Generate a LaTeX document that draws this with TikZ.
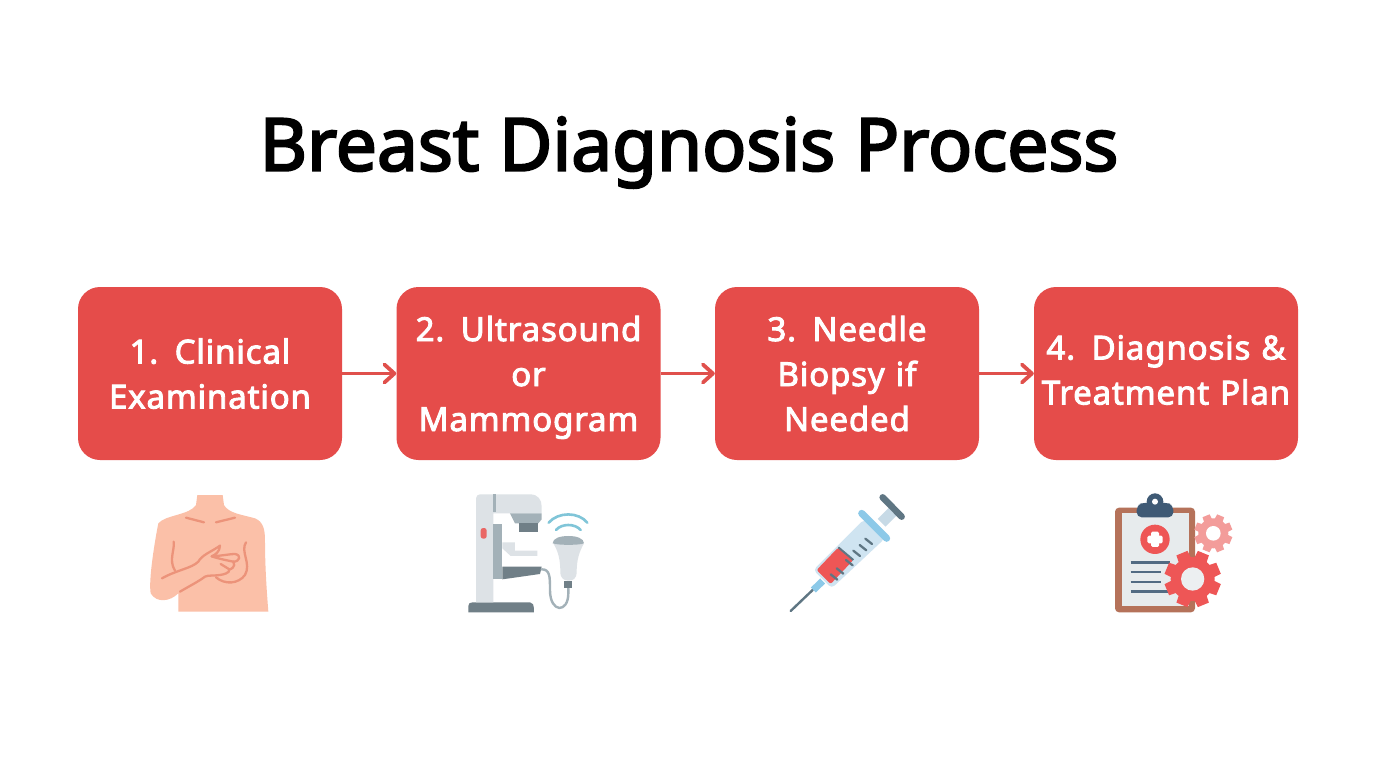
\documentclass[tikz,border=0pt]{standalone}
\usepackage{fontspec}
\setmainfont{Noto Sans}
\newfontfamily\boxfont{Noto Sans}[FakeBold=2.8,LetterSpace=2.6]
\newfontfamily\headfont{Noto Sans}[FakeBold=3]
\usetikzlibrary{arrows.meta}
\definecolor{boxred}{HTML}{E54C4A}
\definecolor{arrred}{HTML}{E0504C}
\definecolor{skin}{HTML}{FBC0A8}
\definecolor{skinline}{HTML}{EC937A}
\definecolor{mlight}{HTML}{DDE2E6}
\definecolor{mmid}{HTML}{A3B1B8}
\definecolor{mdark}{HTML}{707F87}
\definecolor{wave}{HTML}{80C5D8}
\definecolor{sblue}{HTML}{8CC9E8}
\definecolor{sbarrel}{HTML}{CFE4F1}
\definecolor{sdark}{HTML}{5F7683}
\definecolor{navy}{HTML}{3F5A75}
\definecolor{wood}{HTML}{B5725A}
\definecolor{gearred}{HTML}{EE5656}
\definecolor{gearpink}{HTML}{F39C9A}
\newcommand{\tl}{\rule[-10pt]{0pt}{45pt}}
\newcommand{\tm}{\rule[-14pt]{0pt}{45pt}}
\newcommand{\boxsetup}{\boxfont\fontsize{33}{45}\selectfont\spaceskip=6.5pt\relax\xspaceskip=6.5pt\relax}
\newcommand{\headsetup}{\headfont\fontsize{73}{80}\selectfont\spaceskip=20pt\relax\xspaceskip=20pt\relax}
\tikzset{
  stepbox/.style={draw=none,fill=boxred,rounded corners=22pt,minimum width=264pt,minimum height=173pt,
    inner sep=0pt,text=white,align=center,text width=264pt,font=\boxsetup},
  flow/.style={draw=arrred,line width=3.6pt,-{Straight Barb[round,length=10pt,width=18pt,line width=3.8pt]}},
  title/.style={inner sep=0pt,font=\headsetup},
  icon/.style={shift={(#1)},x=0.3333pt,y=-0.3333pt},
  skinstroke/.style={draw=skinline,line width=2.3pt,line cap=round,line join=round},
}
\begin{document}
\begin{tikzpicture}[x=1pt,y=-1pt]
\useasboundingbox (0,0) rectangle (1376,768);
\fill[white] (0,0) rectangle (1376,768);
\node[title] (head) at (689,152.5) {Breast Diagnosis Process};
\node[stepbox] (s1) at (210,373.5) {\tl 1. Clinical\\\tl Examination};
\node[stepbox] (s2) at (528.5,373.5) {\tl 2. Ultrasound\\\tl or\\\tl Mammogram};
\node[stepbox] (s3) at (847,373.5) {\tl 3. Needle\\\tl Biopsy if\\\tl Needed};
\node[stepbox] (s4) at (1166,373.5) {\tm 4. Diagnosis \&\\\tm Treatment Plan};
\draw[flow] (s1.east) -- (s2.west);
\draw[flow] (s2.east) -- (s3.west);
\draw[flow] (s3.east) -- (s4.west);

% --- icon 1: body
\begin{scope}[icon={130,480}]
\fill[skin] (202,45) -- (278,45) -- (282,75) .. controls (295,100) and (340,105) .. (375,115)
  .. controls (400,125) and (405,150) .. (405,180) .. controls (405,260) and (410,330) .. (415,395) -- (145,395)
  -- (145,340) .. controls (120,365) and (80,370) .. (62,340)
  .. controls (55,300) and (75,180) .. (85,130) .. controls (105,105) and (180,105) .. (198,75) -- cycle;
\draw[skinstroke] (168,113) -- (222,127);
\draw[skinstroke] (258,127) -- (315,113);
\draw[skinstroke] (131,185) .. controls (135,210) and (115,240) .. (135,272);
\draw[skinstroke] (348,187) .. controls (330,215) and (365,250) .. (345,285) .. controls (325,312) and (285,315) .. (258,292);
\draw[skinstroke] (96,295) .. controls (140,270) and (185,265) .. (205,245) .. controls (215,225) and (245,215) .. (270,197)
  .. controls (270,215) and (255,225) .. (245,229) .. controls (270,228) and (300,222) .. (315,222)
  .. controls (335,225) and (330,245) .. (310,245) .. controls (320,260) and (300,270) .. (298,268)
  .. controls (300,280) and (280,283) .. (270,285) .. controls (250,288) and (235,285) .. (225,290)
  .. controls (205,305) and (175,320) .. (150,335);
\draw[skinstroke] (245,229) .. controls (262,235) and (285,240) .. (310,245);
\draw[skinstroke] (272,252) -- (298,268);
\end{scope}

% --- icon 2: mammography and probe
\begin{scope}[icon={450,480}]
\fill[mdark] (55,397) -- (55,378) .. controls (55,370) and (60,367) .. (68,367) -- (240,367) .. controls (248,367) and (252,372) .. (252,397) -- cycle;
\fill[mlight] (78,367) -- (78,55) .. controls (78,48) and (84,43) .. (90,43) -- (240,43) .. controls (265,43) and (275,60) .. (275,80) -- (275,100) -- (130,100) -- (130,367) -- cycle;
\fill[mmid] (128,43) rectangle (138,97);
\fill[mmid] (180,100) -- (275,100) -- (275,118) -- (265,130) -- (195,130) -- cycle;
\fill[mdark] (207,130) rectangle (265,157);
\fill[mmid] (130,132) -- (157,132) -- (157,298) -- (130,298) -- cycle;
\fill[mlight] (157,187) -- (195,187) -- (195,212) -- (262,212) -- (262,228) -- (182,228) -- (157,205) -- cycle;
\fill[mdark] (157,260) -- (275,260) -- (270,282) -- (200,292) -- (157,298) -- cycle;
\fill[boxred!85!white,rounded corners=2.5pt] (92,144) rectangle (110,176);
\draw[mmid,line width=2.4pt,line cap=round] (275,268) .. controls (300,268) and (300,290) .. (300,330) .. controls (300,400) and (355,400) .. (355,340) -- (355,325);
\fill[mdark] (343,302) rectangle (367,325);
\fill[mlight] (311,192) .. controls (325,215) and (331,240) .. (331,275) .. controls (331,298) and (345,302) .. (355,302) .. controls (368,302) and (380,298) .. (380,275) .. controls (380,240) and (388,215) .. (401,192) -- cycle;
\fill[mmid] (308,190) .. controls (308,175) and (330,168) .. (355,168) .. controls (380,168) and (402,175) .. (402,190) .. controls (390,196) and (322,196) .. (308,190) -- cycle;
\draw[wave,line width=2.6pt,line cap=round] (296,128) .. controls (325,95) and (385,95) .. (412,128);
\draw[wave,line width=2.6pt,line cap=round] (318,150) .. controls (335,130) and (375,130) .. (392,150);
\end{scope}

% --- icon 3: syringe
\begin{scope}[icon={770,480}]
\draw[sdark,line width=2.4pt,line cap=round] (128,330) -- (62,393);
\draw[sblue,line width=7pt] (158,303) -- (130,330);
\draw[sbarrel!90!gray,line width=11pt,line cap=butt] (335,128) -- (368,95);
\fill[sbarrel,rounded corners=4pt] (130,270) -- (282,118) -- (345,175) -- (185,325) -- cycle;
\fill[gearred,rounded corners=2pt] (140,270) -- (205,202) -- (250,240) -- (182,312) -- cycle;
\draw[sdark,line width=2pt] (205,202) -- (250,240);
\draw[sblue,line width=7pt,line cap=round] (275,100) -- (350,175);
\draw[sdark,line width=6.5pt,line cap=round] (338,52) -- (395,110);
\foreach \p/\q in {286/176,269/195,250/212,228/240,200/265,182/283}{
  \draw[sdark,line width=2.3pt,line cap=round] (\p,\q) -- (\p+20,\q+16);
}
\end{scope}

% --- icon 4: clipboard and gears
\begin{scope}[icon={1090,480}]
\fill[wood,rounded corners=4pt] (75,83) rectangle (315,397);
\fill[mlight!70!white] (95,100) rectangle (297,378);
\fill[navy] (195,65) circle[radius=25];
\fill[navy,rounded corners=5pt] (140,112) -- (140,75) -- (160,68) -- (230,68) -- (250,75) -- (250,112) -- cycle;
\fill[white] (195,65) circle[radius=9];
\fill[gearred] (195,178) circle[radius=44];
\fill[white,rounded corners=1.5pt] (183,155) rectangle (207,201);
\fill[white,rounded corners=1.5pt] (172,167) rectangle (218,190);
\foreach \ya/\xb in {248/240,276/212,306/212,335/240}{
  \draw[navy!90!white,line width=2.4pt] (122,\ya) -- (\xb,\ya);
}
\foreach \a in {0,45,...,315}{
  \fill[gearpink,shift={(370,160)},rotate=\a+22.5,x=1pt,y=1pt] (-5.2,0) -- (-3.8,-19) -- (3.8,-19) -- (5.2,0) -- cycle;
  \fill[gearred,shift={(308,297)},rotate=\a+22.5,x=1pt,y=1pt] (-8,0) -- (-6,-28) -- (6,-28) -- (8,0) -- cycle;
}
\fill[gearpink] (370,160) circle[radius=45];
\fill[white] (370,160) circle[radius=22];
\fill[gearred] (308,297) circle[radius=66];
\fill[mlight!55!white] (308,297) circle[radius=35];
\end{scope}
\end{tikzpicture}
\end{document}
